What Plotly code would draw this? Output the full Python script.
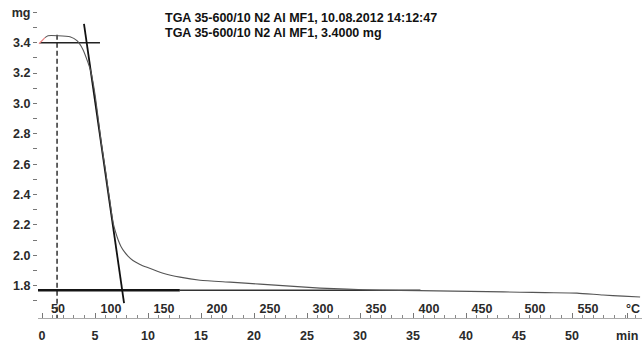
import plotly.graph_objects as go

# ---- data (time in min, mass in mg) ----
curve_t = [0.28, 0.57, 1.51, 2.64, 3.30, 3.87, 4.34, 4.58, 4.76, 5.00, 5.31, 5.61, 5.97, 6.23,
           6.44, 6.60, 6.75, 6.93, 7.17, 7.45, 7.78, 8.11, 8.58, 9.25, 9.91, 11.42, 13.02,
           14.91, 17.74, 20.57, 23.40, 26.23, 28.77, 31.89, 35.66, 38.77, 41.98, 45.09, 47.45,
           50.47, 52.92, 54.81, 56.42]
curve_mg = [3.433, 3.446, 3.446, 3.439, 3.413, 3.354, 3.269, 3.217, 3.158, 3.060, 2.896, 2.732,
            2.569, 2.438, 2.340, 2.261, 2.202, 2.156, 2.104, 2.058, 2.022, 1.995, 1.966, 1.940,
            1.921, 1.882, 1.856, 1.836, 1.823, 1.810, 1.797, 1.784, 1.777, 1.770, 1.767, 1.764,
            1.761, 1.757, 1.754, 1.751, 1.738, 1.731, 1.725]
start_t = [-0.28, 0.28]
start_mg = [3.393, 3.433]
tangent_t = [3.96, 7.74]
tangent_mg = [3.524, 1.685]
top_level_t = [-0.19, 5.47]
top_level_mg = [3.40, 3.40]
base_thick_t = [-0.38, 13.0]
base_thin_t = [13.0, 35.7]
base_mg = 1.770
onset_t = 1.42
onset_mg = [3.452, 1.58]

time_ticks = [0, 5, 10, 15, 20, 25, 30, 35, 40, 45, 50, 55.2]
time_labels = ["0", "5", "10", "15", "20", "25", "30", "35", "40", "45", "50", "min"]
temp_ticks = [50, 100, 150, 200, 250, 300, 350, 400, 450, 500, 550, 592.5]
temp_labels = ["50", "100", "150", "200", "250", "300", "350", "400", "450", "500", "550", "°C"]
mg_ticks = [1.6, 1.7, 1.8, 1.9, 2.0, 2.1, 2.2, 2.3, 2.4, 2.5, 2.6, 2.7, 2.8, 2.9, 3.0, 3.1, 3.2, 3.3, 3.4, 3.5, 3.6]
mg_labels = ["1.6", "", "1.8", "", "2.0", "", "2.2", "", "2.4", "", "2.6", "", "2.8", "", "3.0", "",
             "3.2", "", "3.4", "", "mg"]
title_lines = ["TGA 35-600/10 N2 Al MF1, 10.08.2012 14:12:47",
               "TGA 35-600/10 N2 Al MF1, 3.4000 mg"]

FONT = "Liberation Sans, Arial, sans-serif"
TXT = "#2a2a2a"

fig = go.Figure()
fig.add_trace(go.Scatter(x=[onset_t, onset_t], y=onset_mg, mode="lines",
                         line=dict(color="#111", width=1.3, dash="5px,3px"), showlegend=False, hoverinfo="skip"))
fig.add_trace(go.Scatter(x=base_thick_t, y=[base_mg, base_mg], mode="lines",
                         line=dict(color="#151515", width=2.6), showlegend=False, hoverinfo="skip"))
fig.add_trace(go.Scatter(x=base_thin_t, y=[base_mg, base_mg], mode="lines",
                         line=dict(color="#333", width=1.6), showlegend=False, hoverinfo="skip"))
fig.add_trace(go.Scatter(x=top_level_t, y=top_level_mg, mode="lines",
                         line=dict(color="#222", width=1.5), showlegend=False, hoverinfo="skip"))
fig.add_trace(go.Scatter(x=tangent_t, y=tangent_mg, mode="lines",
                         line=dict(color="#111", width=1.8), showlegend=False, hoverinfo="skip"))
fig.add_trace(go.Scatter(x=curve_t, y=curve_mg, mode="lines", line_shape="spline",
                         line=dict(color="#555", width=1.1, smoothing=0.6), showlegend=False, hoverinfo="skip"))
fig.add_trace(go.Scatter(x=start_t, y=start_mg, mode="lines",
                         line=dict(color="#e98080", width=1.2), showlegend=False, hoverinfo="skip"))
fig.add_trace(go.Scatter(x=[temp_ticks[0]], y=[mg_ticks[0]], xaxis="x2", mode="markers",
                         marker=dict(opacity=0), showlegend=False, hoverinfo="skip"))

W, H = 642, 343
ml, mr, mt, mb = 38, 0, 0, 23
pw, ph = W - ml - mr, H - mt - mb
for i, line in enumerate(title_lines):
    fig.add_annotation(x=(163 - ml) / pw, y=1 - (18 + 15 * i - mt) / ph, xref="paper", yref="paper",
                       text=line, showarrow=False, xanchor="left", yanchor="middle",
                       font=dict(family=FONT, size=12.5, color="#111", weight="bold"))

fig.update_layout(
    width=W, height=H, margin=dict(l=ml, r=mr, t=mt, b=mb),
    paper_bgcolor="white", plot_bgcolor="white",
    font=dict(family=FONT, size=12, color=TXT, weight="bold"),
    xaxis=dict(range=[-0.377, 56.6], tickvals=time_ticks, ticktext=time_labels,
               ticks="inside", ticklen=5, tickcolor="#777", tickwidth=1, ticklabelstandoff=6,
               minor=dict(dtick=1, ticks="inside", ticklen=3, tickcolor="#888"),
               showline=True, linecolor="#aaa", linewidth=1, showgrid=False, zeroline=False,
               tickfont=dict(family=FONT, size=12.5, color=TXT, weight="bold")),
    xaxis2=dict(range=[35 - 3.77, 35 + 566], overlaying="x", anchor="y", side="bottom",
                tickvals=temp_ticks, ticktext=temp_labels, ticklabelposition="inside",
                ticks="", showline=False, showgrid=False, zeroline=False,
                tickfont=dict(family=FONT, size=12.5, color=TXT, weight="bold")),
    yaxis=dict(range=[1.587, 3.681], tickvals=mg_ticks, ticktext=mg_labels,
               ticks="outside", ticklen=4, tickcolor="#777", showline=False, showgrid=False,
               zeroline=False, tickfont=dict(family=FONT, size=12.5, color=TXT, weight="bold")),
)

fig.write_html("out.html")
